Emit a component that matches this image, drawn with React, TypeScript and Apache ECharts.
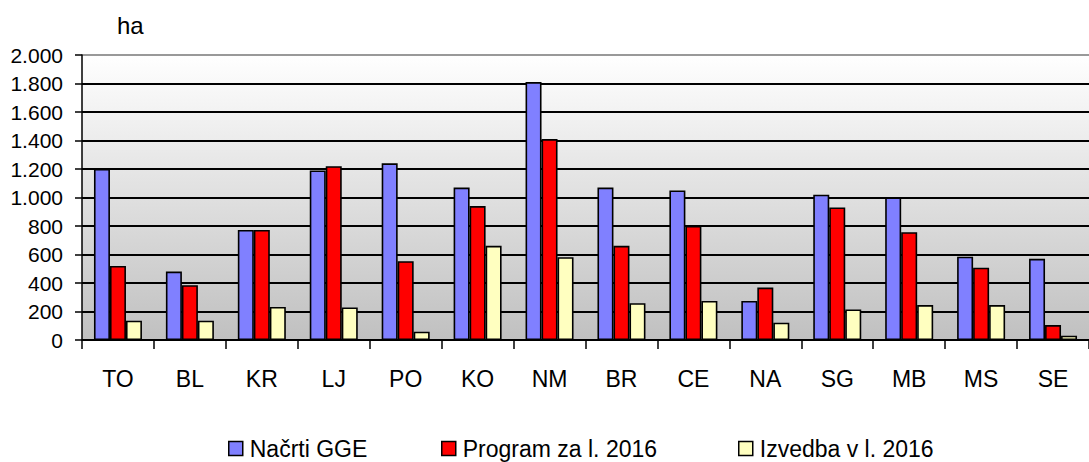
import React, { useEffect, useRef } from "react";
import * as echarts from "echarts";

const categories = ["TO", "BL", "KR", "LJ", "PO", "KO", "NM", "BR", "CE", "NA", "SG", "MB", "MS", "SE"];
const seriesNames = ["Načrti GGE", "Program za l. 2016", "Izvedba v l. 2016"];
const nacrti = [1200, 480, 772, 1190, 1240, 1070, 1810, 1070, 1050, 274, 1020, 1000, 585, 570];
const program = [520, 385, 772, 1220, 553, 940, 1410, 661, 800, 368, 930, 757, 507, 105];
const izvedba = [135, 135, 232, 228, 58, 661, 581, 258, 274, 121, 214, 245, 245, 30];
const colors = ["#8080ff", "#ff0000", "#ffffc0"];
const unitLabel = "ha";

const FONT = "'Liberation Sans', Arial, sans-serif";

function fmt(v: number): string {
  if (v >= 1000) {
    return Math.floor(v / 1000) + "." + String(v % 1000).padStart(3, "0");
  }
  return String(v);
}

export default function App() {
  const ref = useRef<HTMLDivElement>(null);
  useEffect(() => {
    if (!ref.current) return;
    const chart = echarts.init(ref.current, undefined, { renderer: "svg" });
    const data = [nacrti, program, izvedba];
    const splitColors = Array.from({ length: 11 }, (_, i) => (i === 10 ? "#999999" : "#000000"));
    const legendLefts = [228, 441, 738];
    chart.setOption({
      animation: false,
      backgroundColor: "#ffffff",
      textStyle: { fontFamily: FONT },
      grid: {
        left: 82,
        top: 55,
        width: 1008,
        height: 285,
        show: true,
        borderWidth: 0,
        backgroundColor: new echarts.graphic.LinearGradient(0, 0, 0, 1, [
          { offset: 0, color: "#ffffff" },
          { offset: 1, color: "#c0c0c0" },
        ]),
      },
      graphic: [
        {
          type: "text",
          left: 117,
          top: 13,
          style: { text: unitLabel, fontSize: 24, fontFamily: FONT, fill: "#000" },
        },
      ],
      legend: seriesNames.map((n, i) => ({
        data: [n],
        left: legendLefts[i],
        top: 437,
        padding: 0,
        itemWidth: 14,
        itemHeight: 14,
        itemStyle: { borderColor: "#000", borderWidth: 1.5 },
        textStyle: { fontSize: 23, fontFamily: FONT, color: "#000", padding: [0, 0, 0, 2] },
        icon: "rect",
      })),
      xAxis: {
        type: "category",
        data: categories,
        axisLine: { show: true, lineStyle: { color: "#000", width: 1.5 } },
        axisTick: { show: true, length: 9, lineStyle: { color: "#000", width: 1.5 } },
        axisLabel: { fontSize: 23, fontFamily: FONT, color: "#000", margin: 27 },
        splitLine: { show: false },
      },
      yAxis: {
        type: "value",
        min: 0,
        max: 2000,
        interval: 200,
        axisLine: { show: true, lineStyle: { color: "#000", width: 1.5 } },
        axisTick: { show: true, length: 7, lineStyle: { color: "#000", width: 1.5 } },
        axisLabel: { fontSize: 21, fontFamily: FONT, color: "#000", margin: 19, formatter: (v: number) => fmt(v) },
        splitLine: { show: true, lineStyle: { color: splitColors, width: 1.8 } },
      },
      series: seriesNames.map((n, i) => ({
        name: n,
        type: "bar",
        data: data[i],
        barWidth: 16,
        barGap: "0%",
        itemStyle: { color: colors[i], borderColor: "#000", borderWidth: 1.6 },
      })),
    });
    return () => chart.dispose();
  }, []);
  return <div ref={ref} style={{ position: "fixed", left: 0, top: 0, width: 1089, height: 462 }} />;
}
